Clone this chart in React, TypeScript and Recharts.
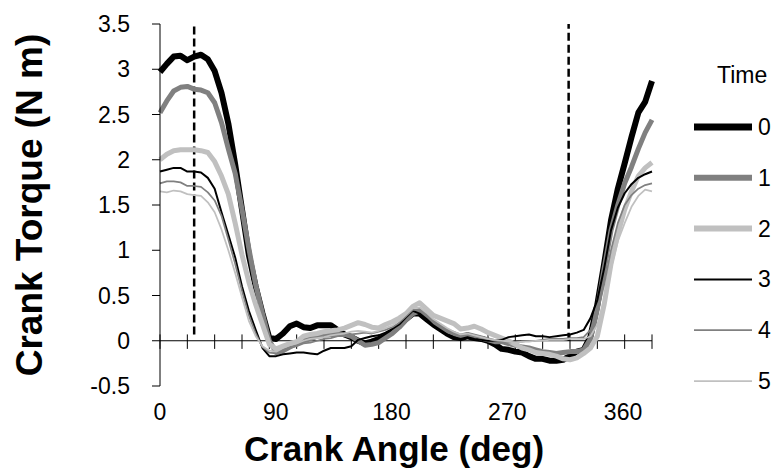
import { Legend, Line, LineChart, ReferenceLine, XAxis, YAxis } from 'recharts';

const FONT = '"Liberation Sans", Arial, sans-serif';

// crank angle, degrees
const angles = [
  0, 5, 10, 15, 20, 25, 30, 35, 40, 45, 50, 55, 60, 65, 70, 75, 80, 85, 90,
  95, 100, 105, 110, 115, 120, 125, 130, 135, 140, 145, 150, 155, 160, 165, 170,
  175, 180, 185, 190, 195, 200, 205, 210, 215, 220, 225, 230, 235, 240, 245, 250,
  255, 260, 265, 270, 275, 280, 285, 290, 295, 300, 305, 310, 315, 320, 325, 330,
  335, 340, 345, 350, 355, 360,
];

// crank torque (N m) per time point
const time0 = [
  2.97, 3.06, 3.14, 3.15, 3.1, 3.14, 3.16, 3.11, 2.98, 2.74, 2.4, 1.95, 1.45, 0.95, 0.6, 0.3, 0.03, 0.02, 0.08,
  0.16, 0.19, 0.15, 0.14, 0.17, 0.17, 0.17, 0.12, 0.07, 0.04, 0.0, -0.03, -0.01, 0.02, 0.05, 0.1,
  0.16, 0.24, 0.3, 0.3, 0.24, 0.18, 0.13, 0.08, 0.04, 0.03, 0.05, 0.03, 0.02, 0.0, -0.04, -0.09,
  -0.1, -0.12, -0.13, -0.17, -0.2, -0.2, -0.22, -0.22, -0.21, -0.17, -0.12, -0.1, 0.05, 0.4, 0.85, 1.33,
  1.68, 1.96, 2.25, 2.52, 2.64, 2.87,
];
const time1 = [
  2.52, 2.65, 2.76, 2.8, 2.81, 2.78, 2.77, 2.74, 2.63, 2.41, 2.12, 1.85, 1.45, 1.02, 0.62, 0.3, 0.0, -0.13, -0.11,
  -0.07, -0.03, 0.0, 0.02, 0.05, 0.06, 0.07, 0.07, 0.07, 0.05, 0.0, -0.05, -0.04, -0.02, 0.03, 0.08,
  0.15, 0.23, 0.3, 0.33, 0.27, 0.2, 0.15, 0.11, 0.08, 0.05, 0.07, 0.05, 0.03, 0.01, -0.01, -0.01,
  -0.03, -0.05, -0.07, -0.08, -0.1, -0.12, -0.13, -0.14, -0.13, -0.12, -0.12, -0.1, 0.02, 0.35, 0.8, 1.22,
  1.5, 1.74, 1.92, 2.12, 2.3, 2.44,
];
const time2 = [
  2.0, 2.06, 2.1, 2.11, 2.11, 2.11, 2.1, 2.08, 1.98, 1.82, 1.62, 1.3, 0.95, 0.65, 0.4, 0.18, -0.04, -0.09, -0.06,
  -0.03, -0.01, 0.05, 0.07, 0.08, 0.1, 0.11, 0.12, 0.14, 0.17, 0.2, 0.18, 0.15, 0.14, 0.18, 0.21,
  0.25, 0.3, 0.38, 0.42, 0.35, 0.28, 0.25, 0.22, 0.19, 0.13, 0.14, 0.16, 0.13, 0.09, 0.06, 0.03,
  0.0, -0.04, -0.08, -0.1, -0.13, -0.14, -0.15, -0.17, -0.2, -0.21, -0.19, -0.14, -0.08, 0.05, 0.4, 0.85,
  1.18, 1.45, 1.65, 1.82, 1.91, 1.97,
];
const time3 = [
  1.87, 1.89, 1.91, 1.91, 1.87, 1.87, 1.86, 1.8, 1.68, 1.42, 1.17, 0.92, 0.6, 0.33, 0.12, -0.08, -0.17, -0.17, -0.15,
  -0.14, -0.13, -0.13, -0.14, -0.15, -0.11, -0.08, -0.08, -0.08, -0.06, 0.01, 0.03, 0.05, 0.06, 0.09, 0.13,
  0.18, 0.26, 0.33, 0.3, 0.24, 0.17, 0.12, 0.07, 0.04, 0.02, 0.04, 0.02, 0.01, 0.0, 0.0, 0.01,
  0.04, 0.05, 0.06, 0.07, 0.05, 0.05, 0.04, 0.05, 0.06, 0.07, 0.09, 0.12, 0.25, 0.45, 0.8, 1.22,
  1.47, 1.63, 1.73, 1.8, 1.84, 1.87,
];
const time4 = [
  1.74, 1.76, 1.76, 1.75, 1.71, 1.71, 1.7, 1.64, 1.55, 1.38, 1.12, 0.85, 0.55, 0.28, 0.08, -0.07, -0.13, -0.14, -0.1,
  -0.08, -0.06, -0.03, -0.02, 0.0, 0.02, 0.03, 0.05, 0.06, 0.07, 0.08, 0.09, 0.08, 0.1, 0.12, 0.15,
  0.2, 0.27, 0.34, 0.35, 0.29, 0.22, 0.17, 0.12, 0.08, 0.06, 0.07, 0.05, 0.03, 0.02, 0.0, -0.01,
  -0.02, -0.01, -0.01, 0.0, 0.0, 0.01, 0.02, 0.02, 0.02, 0.03, 0.03, 0.04, 0.12, 0.3, 0.62, 1.0,
  1.3, 1.5, 1.61, 1.68, 1.72, 1.74,
];
const time5 = [
  1.65, 1.64, 1.66, 1.65, 1.62, 1.61, 1.6, 1.53, 1.42, 1.23, 1.0, 0.75, 0.48, 0.22, 0.05, -0.06, -0.11, -0.12, -0.08,
  -0.05, -0.03, 0.0, 0.02, 0.03, 0.04, 0.06, 0.07, 0.08, 0.1, 0.11, 0.1, 0.09, 0.11, 0.14, 0.17,
  0.22, 0.29, 0.36, 0.37, 0.31, 0.24, 0.19, 0.14, 0.1, 0.07, 0.08, 0.06, 0.04, 0.02, 0.01, 0.0,
  -0.01, -0.02, -0.01, -0.01, 0.0, 0.0, 0.01, 0.01, 0.01, 0.02, 0.02, 0.02, 0.05, 0.18, 0.45, 0.8,
  1.1, 1.3, 1.48, 1.6, 1.67, 1.65,
];

const series = [
  { key: 't0', name: '0', values: time0, color: '#000000', width: 6 },
  { key: 't1', name: '1', values: time1, color: '#808080', width: 5 },
  { key: 't2', name: '2', values: time2, color: '#c0c0c0', width: 5 },
  { key: 't3', name: '3', values: time3, color: '#000000', width: 2 },
  { key: 't4', name: '4', values: time4, color: '#808080', width: 1.75 },
  { key: 't5', name: '5', values: time5, color: '#c0c0c0', width: 1.75 },
];

const yTicks = [-0.5, 0, 0.5, 1, 1.5, 2, 2.5, 3, 3.5];
const xMinorTicks = [0, 20, 40, 60, 80, 100, 120, 140, 160, 180, 200, 220, 240, 260, 280, 300, 320, 340, 360];
const xLabels = [0, 90, 180, 270, 360];
// pedal phase markers (deg)
const markers = [25, 299];

const data = angles.map((angle, i) => {
  const row: Record<string, number> = { angle };
  series.forEach((s) => {
    row[s.key] = s.values[i];
  });
  return row;
});

function AngleTick({ x, y, payload }: any) {
  return (
    <text x={x} y={y + 4} textAnchor="middle" fontSize={23} fill="#000" fontFamily={FONT}>
      {payload.value}
    </text>
  );
}

function TimeLegend() {
  return (
    <svg width={86} height={345}>
      <text x={27} y={33} fontSize={23} fontFamily={FONT} fill="#000">
        Time
      </text>
      {series.map((s, i) => {
        const y = 77 + i * 50.8;
        return (
          <g key={s.key}>
            <line x1={4} x2={62} y1={y} y2={y} stroke={s.color} strokeWidth={s.width + (i < 3 ? 1 : 0)} />
            <text x={68} y={y + 8} fontSize={23} fontFamily={FONT} fill="#000">
              {s.name}
            </text>
          </g>
        );
      })}
    </svg>
  );
}

export default function App() {
  return (
    <div style={{ position: 'absolute', left: 0, top: 0, width: 776, height: 468, background: '#fff' }}>
      <LineChart width={776} height={468} data={data} margin={{ top: 24, right: 124, bottom: 0, left: 0 }}>
        <XAxis dataKey="angle" type="number" domain={[0, 360]} ticks={xMinorTicks} hide />
        <XAxis
          xAxisId="labels"
          dataKey="angle"
          type="number"
          domain={[0, 382.5]}
          allowDataOverflow
          ticks={xLabels}
          interval={0}
          height={82}
          axisLine={false}
          tickLine={false}
          tickSize={0}
          tickMargin={0}
          tick={<AngleTick />}
          label={{
            value: 'Crank Angle (deg)',
            position: 'center',
            dx: -12,
            dy: -8,
            fontSize: 35,
            fontWeight: 'bold',
            fill: '#000',
            fontFamily: FONT,
          }}
        />
        <YAxis
          type="number"
          domain={[-0.5, 3.5]}
          ticks={yTicks}
          interval={0}
          width={160}
          tickSize={8}
          tickMargin={22}
          axisLine={{ stroke: '#000', strokeWidth: 1 }}
          tickLine={{ stroke: '#000', strokeWidth: 1 }}
          tick={{ fontSize: 23, fill: '#000', fontFamily: FONT }}
          label={{
            value: 'Crank Torque (N m)',
            angle: -90,
            position: 'center',
            dx: -51,
            fontSize: 37,
            fontWeight: 'bold',
            fill: '#000',
            fontFamily: FONT,
          }}
        />
        {/* axis drawn through zero torque, with its tick marks */}
        <ReferenceLine y={0} stroke="#000" strokeWidth={1} />
        {xMinorTicks.map((t) => (
          <ReferenceLine
            key={`tick-${t}`}
            segment={[
              { x: t, y: -0.09 },
              { x: t, y: 0.07 },
            ]}
            stroke="#000"
            strokeWidth={1}
          />
        ))}
        {markers.map((m, i) => (
          <ReferenceLine
            key={`mark-${m}`}
            segment={[
              { x: m, y: i === 0 ? 0.07 : 0 },
              { x: m, y: 3.5 },
            ]}
            stroke="#000"
            strokeWidth={2.5}
            strokeDasharray="8 4"
          />
        ))}
        {series.map((s) => (
          <Line
            key={s.key}
            dataKey={s.key}
            name={s.name}
            type="linear"
            stroke={s.color}
            strokeWidth={s.width}
            strokeLinejoin="round"
            dot={false}
            isAnimationActive={false}
          />
        ))}
        <Legend
          layout="vertical"
          align="center"
          verticalAlign="middle"
          wrapperStyle={{ left: 690, top: 50, width: 86, height: 345 }}
          content={() => <TimeLegend />}
        />
      </LineChart>
    </div>
  );
}
